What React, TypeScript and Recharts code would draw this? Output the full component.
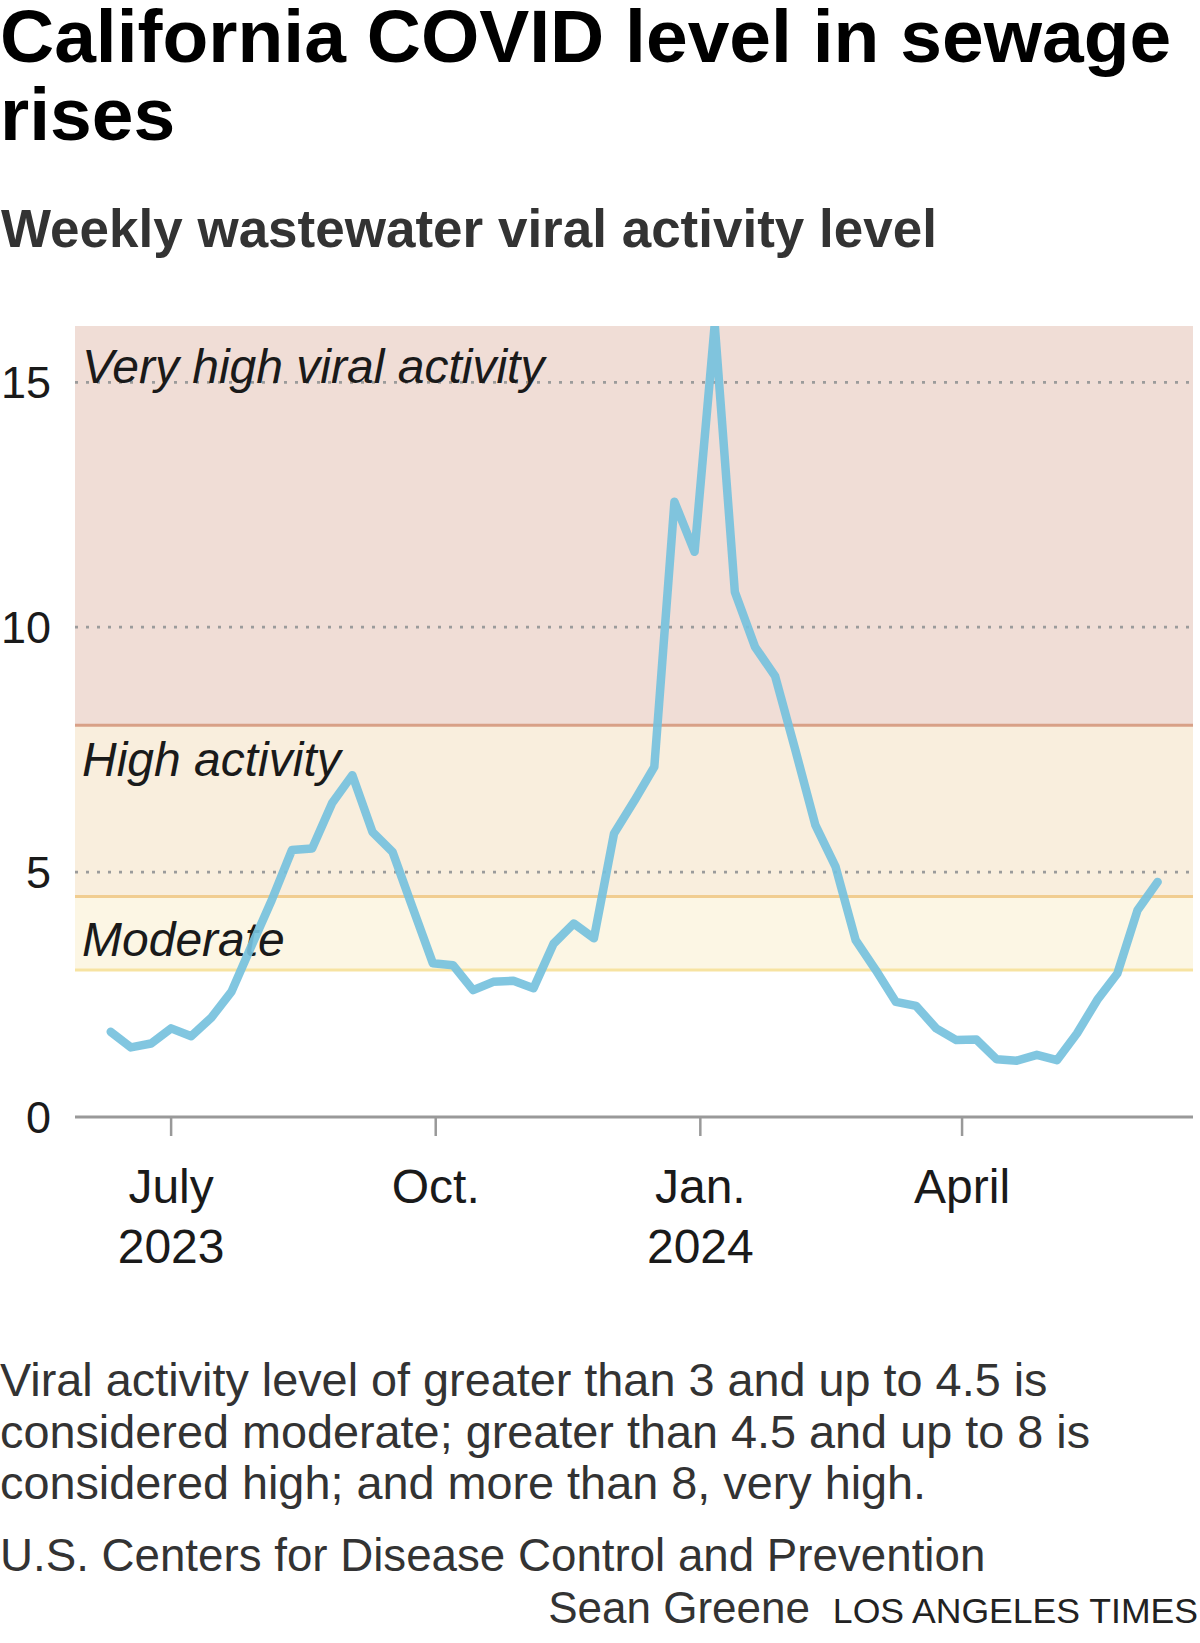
import { ComposedChart, Line, XAxis, YAxis, ReferenceArea, ReferenceLine } from 'recharts';

// weekly CDC wastewater viral activity level, California (week ending)
const weekEnding = [
  '2023-06-10', '2023-06-17', '2023-06-24', '2023-07-01', '2023-07-08', '2023-07-15', '2023-07-22',
  '2023-07-29', '2023-08-05', '2023-08-12', '2023-08-19', '2023-08-26', '2023-09-02', '2023-09-09',
  '2023-09-16', '2023-09-23', '2023-09-30', '2023-10-07', '2023-10-14', '2023-10-21', '2023-10-28',
  '2023-11-04', '2023-11-11', '2023-11-18', '2023-11-25', '2023-12-02', '2023-12-09', '2023-12-16',
  '2023-12-23', '2023-12-30', '2024-01-06', '2024-01-13', '2024-01-20', '2024-01-27', '2024-02-03',
  '2024-02-10', '2024-02-17', '2024-02-24', '2024-03-02', '2024-03-09', '2024-03-16', '2024-03-23',
  '2024-03-30', '2024-04-06', '2024-04-13', '2024-04-20', '2024-04-27', '2024-05-04', '2024-05-11',
  '2024-05-18', '2024-05-25', '2024-06-01', '2024-06-08',
];

const viralLevel = [
  1.74, 1.42, 1.5, 1.81, 1.65, 2.03, 2.56,
  3.5, 4.43, 5.45, 5.48, 6.41, 6.98, 5.82,
  5.41, 4.27, 3.14, 3.1, 2.59, 2.76, 2.78,
  2.63, 3.54, 3.95, 3.65, 5.79, 6.45, 7.15,
  12.56, 11.54, 16.18, 10.72, 9.6, 9.0, 7.5,
  5.96, 5.11, 3.61, 3.0, 2.35, 2.27, 1.81,
  1.57, 1.58, 1.18, 1.15, 1.27, 1.16, 1.71,
  2.39, 2.93, 4.22, 4.8,
];

const yTicks = [0, 5, 10, 15];
const gridLevels = [5, 10, 15];
const yMax = 16.15;

const moderateFrom = 3;
const highFrom = 4.5;
const veryHighFrom = 8;

const xTickDates = ['2023-07-01', '2023-10-01', '2024-01-01', '2024-04-01'];
const xTickMonths = ['July', 'Oct.', 'Jan.', 'April'];
const xTickYears = ['2023', '', '2024', ''];
const xDomainDates = ['2023-05-28T14:00:00Z', '2024-06-20T07:00:00Z'];

const footnote = [
  'Viral activity level of greater than 3 and up to 4.5 is',
  'considered moderate; greater than 4.5 and up to 8 is',
  'considered high; and more than 8, very high.',
];

const FONT = '"Liberation Sans", Arial, sans-serif';

const toTime = (d: string) => Date.parse(d.length > 10 ? d : `${d}T00:00:00Z`);

const data = weekEnding.map((d, i) => ({ t: toTime(d), level: viralLevel[i] }));
const xTicks = xTickDates.map(toTime);

const DateTick = ({ x, y, payload }: any) => {
  const i = xTicks.indexOf(payload.value);
  return (
    <g>
      <text x={x} y={y + 67} textAnchor="middle" fontSize={48} fontFamily={FONT} fill="#1a1a1a">
        {xTickMonths[i]}
      </text>
      {xTickYears[i] && (
        <text x={x} y={y + 127} textAnchor="middle" fontSize={48} fontFamily={FONT} fill="#1a1a1a">
          {xTickYears[i]}
        </text>
      )}
    </g>
  );
};

const BandLabel = ({ viewBox, text, dy }: any) => {
  if (!viewBox) return null;
  return (
    <text
      x={viewBox.x + 7}
      y={viewBox.y + dy}
      fontSize={48}
      fontStyle="italic"
      fontFamily={FONT}
      fill="#1a1a1a"
    >
      {text}
    </text>
  );
};

export default function App() {
  return (
    <div style={{ position: 'absolute', left: 0, top: 0, width: 1200, height: 1643, background: '#fff' }}>
      <ComposedChart
        width={1200}
        height={1643}
        data={data}
        margin={{ top: 326, right: 7, bottom: 376, left: 0 }}
      >
        <ReferenceArea y1={veryHighFrom} y2={yMax} fill="#f0ddd6" fillOpacity={1} stroke="none" />
        <ReferenceArea
          y1={highFrom}
          y2={veryHighFrom}
          fill="#f9eedd"
          fillOpacity={1}
          stroke="none"
          label={<BandLabel text="High activity" dy={51} />}
        />
        <ReferenceArea
          y1={moderateFrom}
          y2={highFrom}
          fill="#fcf6e4"
          fillOpacity={1}
          stroke="none"
          label={<BandLabel text="Moderate" dy={59} />}
        />
        {gridLevels.map((g) => (
          <ReferenceLine
            key={g}
            y={g}
            stroke="#9b9b9b"
            strokeWidth={2.7}
            strokeDasharray="3 8"
            label={g === 15 ? <BandLabel text="Very high viral activity" dy={1} /> : undefined}
          />
        ))}
        <ReferenceLine y={veryHighFrom} stroke="#d8a087" strokeWidth={3} />
        <ReferenceLine y={highFrom} stroke="#f1cd90" strokeWidth={3} />
        <ReferenceLine y={moderateFrom} stroke="#f7e3a1" strokeWidth={3} />
        <XAxis
          dataKey="t"
          type="number"
          domain={xDomainDates.map(toTime)}
          allowDataOverflow
          ticks={xTicks}
          tick={<DateTick />}
          tickSize={19}
          tickMargin={0}
          height={150}
          axisLine={{ stroke: '#999', strokeWidth: 3 }}
          tickLine={{ stroke: '#999', strokeWidth: 2.5 }}
        />
        <YAxis
          type="number"
          domain={[0, yMax]}
          allowDataOverflow
          ticks={yTicks}
          width={75}
          axisLine={false}
          tickLine={false}
          tickSize={0}
          tickMargin={24}
          tick={{ fontSize: 45, fontFamily: FONT, fill: '#1a1a1a' }}
        />
        <Line
          dataKey="level"
          type="linear"
          stroke="#76c1dd"
          strokeOpacity={0.92}
          strokeWidth={8.5}
          strokeLinejoin="round"
          strokeLinecap="round"
          dot={false}
          activeDot={false}
          isAnimationActive={false}
        />
      </ComposedChart>
      <svg
        width={1200}
        height={1643}
        style={{ position: 'absolute', left: 0, top: 0, pointerEvents: 'none' }}
        fontFamily={FONT}
      >
        <text x={0} y={62} fontSize={75} fontWeight="bold" fill="#000">
          California COVID level in sewage
        </text>
        <text x={0} y={140} fontSize={75} fontWeight="bold" fill="#000">
          rises
        </text>
        <text x={1} y={247} fontSize={53} fontWeight="bold" fill="#333">
          Weekly wastewater viral activity level
        </text>
        {footnote.map((line, i) => (
          <text key={i} x={0} y={1396 + i * 51.5} fontSize={46.8} fill="#333">
            {line}
          </text>
        ))}
        <text x={0} y={1571} fontSize={45.7} fill="#333">
          U.S. Centers for Disease Control and Prevention
        </text>
        <text x={810} y={1623} fontSize={44} fill="#333" textAnchor="end">
          Sean Greene
        </text>
        <text x={1198} y={1623} fontSize={35.6} fill="#222" textAnchor="end">
          LOS ANGELES TIMES
        </text>
      </svg>
    </div>
  );
}
